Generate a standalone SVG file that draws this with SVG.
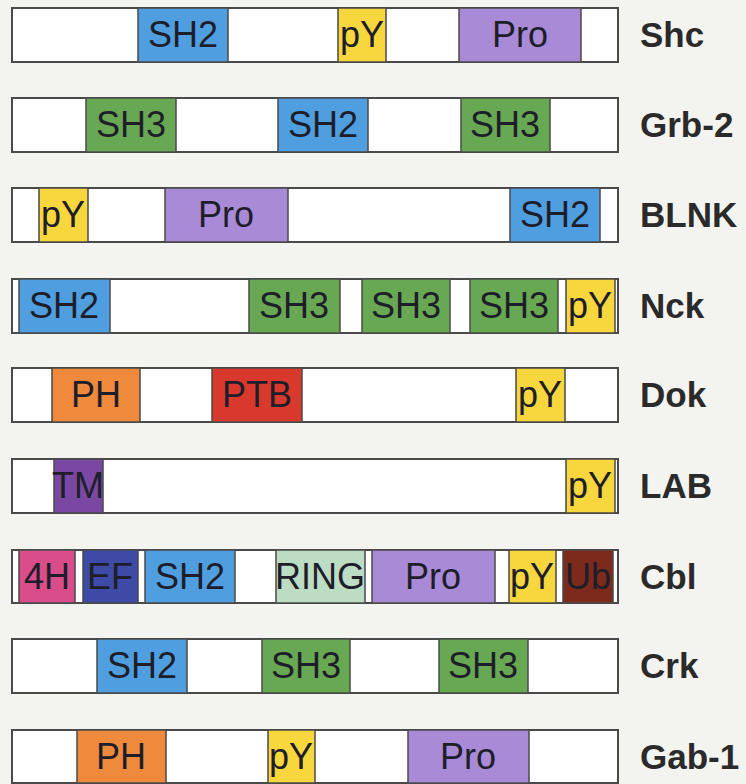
<svg xmlns="http://www.w3.org/2000/svg" width="746" height="784" viewBox="0 0 746 784">
<style>
.bg{fill:#f3f3ef}
.bar{fill:#ffffff;stroke:#4a4a4a;stroke-width:2}
.d{stroke:#4a4a4a;stroke-width:1.5}
.t{font-family:"Liberation Sans",Arial,sans-serif;font-size:36px;fill:#1e1e2a;text-anchor:middle}
.n{font-family:"Liberation Sans",Arial,sans-serif;font-size:35px;font-weight:bold;fill:#2a2a2a}
.sh2{fill:#4f9fe0}.sh3{fill:#68a852}.py{fill:#f7d63e}.pro{fill:#a98ad6}
.ph{fill:#ef8a3c}.ptb{fill:#d9392d}.tm{fill:#7a48a2}.h4{fill:#d84d8a}
.ef{fill:#3d4ba6}.ring{fill:#bcdcc4}.ub{fill:#7b2a1c}
</style>
<rect class="bg" x="0" y="0" width="746" height="784"/>

<g id="Shc">
<rect class="bar" x="12" y="8" width="606" height="54"/>
<rect class="d sh2" x="138" y="8" width="90" height="54"/><text class="t" x="183" y="47">SH2</text>
<rect class="d py" x="338" y="8" width="48" height="54"/><text class="t" x="362" y="47">pY</text>
<rect class="d pro" x="459" y="8" width="122" height="54"/><text class="t" x="520" y="47">Pro</text>
<text class="n" x="640" y="47">Shc</text>
</g>

<g id="Grb-2">
<rect class="bar" x="12" y="98" width="606" height="54"/>
<rect class="d sh3" x="86" y="98" width="90" height="54"/><text class="t" x="131" y="137">SH3</text>
<rect class="d sh2" x="278" y="98" width="90" height="54"/><text class="t" x="323" y="137">SH2</text>
<rect class="d sh3" x="461" y="98" width="89" height="54"/><text class="t" x="505" y="137">SH3</text>
<text class="n" x="640" y="137">Grb-2</text>
</g>

<g id="BLNK">
<rect class="bar" x="12" y="188" width="606" height="54"/>
<rect class="d py" x="39" y="188" width="49" height="54"/><text class="t" x="63" y="227">pY</text>
<rect class="d pro" x="165" y="188" width="123" height="54"/><text class="t" x="226" y="227">Pro</text>
<rect class="d sh2" x="510" y="188" width="90" height="54"/><text class="t" x="555" y="227">SH2</text>
<text class="n" x="640" y="227">BLNK</text>
</g>

<g id="Nck">
<rect class="bar" x="12" y="279" width="606" height="54"/>
<rect class="d sh2" x="19" y="279" width="91" height="54"/><text class="t" x="64" y="318">SH2</text>
<rect class="d sh3" x="249" y="279" width="91" height="54"/><text class="t" x="294" y="318">SH3</text>
<rect class="d sh3" x="362" y="279" width="88" height="54"/><text class="t" x="406" y="318">SH3</text>
<rect class="d sh3" x="470" y="279" width="88" height="54"/><text class="t" x="514" y="318">SH3</text>
<rect class="d py" x="566" y="279" width="49" height="54"/><text class="t" x="590" y="318">pY</text>
<text class="n" x="640" y="318">Nck</text>
</g>

<g id="Dok">
<rect class="bar" x="12" y="368" width="606" height="54"/>
<rect class="d ph" x="52" y="368" width="88" height="54"/><text class="t" x="96" y="407">PH</text>
<rect class="d ptb" x="212" y="368" width="90" height="54"/><text class="t" x="257" y="407">PTB</text>
<rect class="d py" x="516" y="368" width="49" height="54"/><text class="t" x="540" y="407">pY</text>
<text class="n" x="640" y="407">Dok</text>
</g>

<g id="LAB">
<rect class="bar" x="12" y="459" width="606" height="54"/>
<rect class="d tm" x="54" y="459" width="49" height="54"/><text class="t" x="78" y="498">TM</text>
<rect class="d py" x="566" y="459" width="49" height="54"/><text class="t" x="590" y="498">pY</text>
<text class="n" x="640" y="498">LAB</text>
</g>

<g id="Cbl">
<rect class="bar" x="12" y="550" width="606" height="53"/>
<rect class="d h4" x="19" y="550" width="56" height="53"/><text class="t" x="47" y="589">4H</text>
<rect class="d ef" x="83" y="550" width="55" height="53"/><text class="t" x="110" y="589">EF</text>
<rect class="d sh2" x="145" y="550" width="90" height="53"/><text class="t" x="190" y="589">SH2</text>
<rect class="d ring" x="276" y="550" width="89" height="53"/><text class="t" x="320" y="589">RING</text>
<rect class="d pro" x="372" y="550" width="123" height="53"/><text class="t" x="433" y="589">Pro</text>
<rect class="d py" x="509" y="550" width="47" height="53"/><text class="t" x="532" y="589">pY</text>
<rect class="d ub" x="563" y="550" width="50" height="53"/><text class="t" x="588" y="589">Ub</text>
<text class="n" x="640" y="589">Cbl</text>
</g>

<g id="Crk">
<rect class="bar" x="12" y="639" width="606" height="54"/>
<rect class="d sh2" x="97" y="639" width="90" height="54"/><text class="t" x="142" y="678">SH2</text>
<rect class="d sh3" x="262" y="639" width="88" height="54"/><text class="t" x="306" y="678">SH3</text>
<rect class="d sh3" x="439" y="639" width="89" height="54"/><text class="t" x="483" y="678">SH3</text>
<text class="n" x="640" y="678">Crk</text>
</g>

<g id="Gab-1">
<rect class="bar" x="12" y="730" width="606" height="53"/>
<rect class="d ph" x="77" y="730" width="89" height="53"/><text class="t" x="121" y="769">PH</text>
<rect class="d py" x="268" y="730" width="47" height="53"/><text class="t" x="291" y="769">pY</text>
<rect class="d pro" x="408" y="730" width="121" height="53"/><text class="t" x="468" y="769">Pro</text>
<text class="n" x="640" y="769">Gab-1</text>
</g>
</svg>
